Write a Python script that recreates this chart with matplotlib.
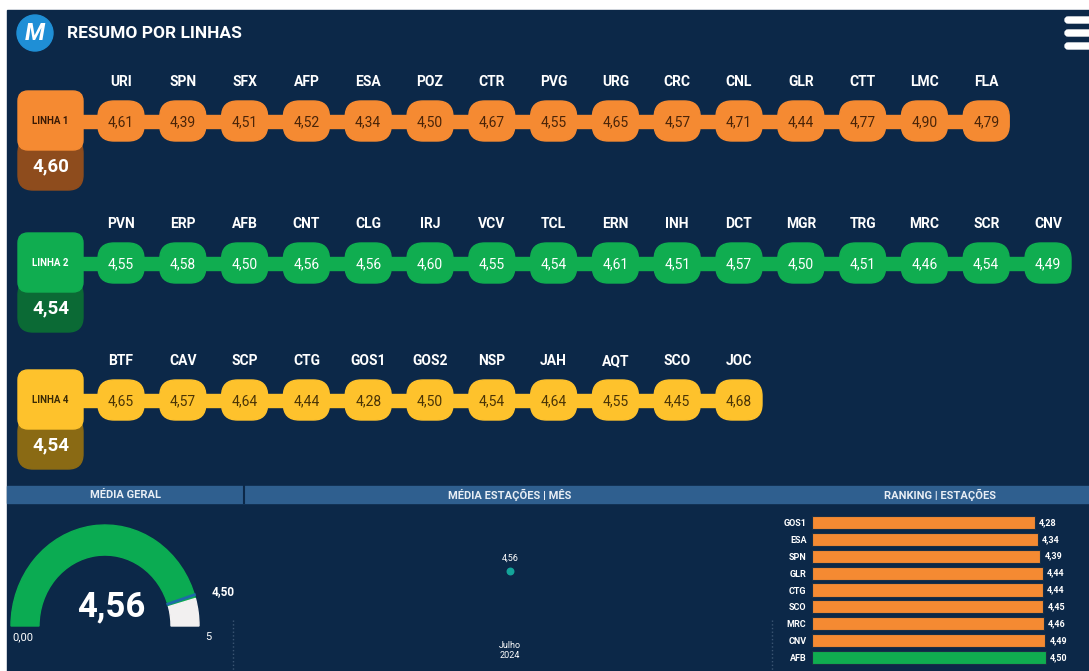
import matplotlib
matplotlib.use('Agg')
import matplotlib.pyplot as plt
from matplotlib.patches import FancyBboxPatch, Rectangle, Wedge, Circle
import numpy as np

# estações e notas de cada linha
linha1_estacoes = ['URI', 'SPN', 'SFX', 'AFP', 'ESA', 'POZ', 'CTR', 'PVG', 'URG',
                   'CRC', 'CNL', 'GLR', 'CTT', 'LMC', 'FLA']
linha1_notas = [4.61, 4.39, 4.51, 4.52, 4.34, 4.50, 4.67, 4.55, 4.65,
                4.57, 4.71, 4.44, 4.77, 4.90, 4.79]
linha2_estacoes = ['PVN', 'ERP', 'AFB', 'CNT', 'CLG', 'IRJ', 'VCV', 'TCL', 'ERN',
                   'INH', 'DCT', 'MGR', 'TRG', 'MRC', 'SCR', 'CNV']
linha2_notas = [4.55, 4.58, 4.50, 4.56, 4.56, 4.60, 4.55, 4.54, 4.61,
                4.51, 4.57, 4.50, 4.51, 4.46, 4.54, 4.49]
linha4_estacoes = ['BTF', 'CAV', 'SCP', 'CTG', 'GOS1', 'GOS2', 'NSP', 'JAH',
                   'AQT', 'SCO', 'JOC']
linha4_notas = [4.65, 4.57, 4.64, 4.44, 4.28, 4.50, 4.54, 4.64, 4.55, 4.45, 4.68]

linhas = ['LINHA 1', 'LINHA 2', 'LINHA 4']
medias_linhas = [4.60, 4.54, 4.54]

media_geral = 4.56
meta = 4.50
gauge_max = 5

meses = ['Julho\n2024']
media_mes = [4.56]

ranking_estacoes = ['GOS1', 'ESA', 'SPN', 'GLR', 'CTG', 'SCO', 'MRC', 'CNV', 'AFB']
ranking_notas = [4.28, 4.34, 4.39, 4.44, 4.44, 4.45, 4.46, 4.49, 4.50]

W, H = 1089, 671
NAVY = '#0c2848'
HEADER = '#2f5f8f'
ORANGE = '#f58a32'
GREEN = '#10ad50'
YELLOW = '#fec22c'

plt.rcParams['font.family'] = ['Roboto', 'DejaVu Sans']


def fmt(v):
    return f'{v:.2f}'.replace('.', ',')


def px_rect(x0, y0, x1, y1):
    return [x0 / W, 1 - y1 / H, (x1 - x0) / W, (y1 - y0) / H]


fig = plt.figure(figsize=(W / 100, H / 100), dpi=100, facecolor='white')
ax = fig.add_axes([0, 0, 1, 1])
ax.set_xlim(0, W)
ax.set_ylim(H, 0)
ax.axis('off')

ax.add_patch(Rectangle((7, 10), W - 7, H - 10, color=NAVY, zorder=0))

# cabeçalho
ax.add_patch(Circle((35, 33), 18, color='#1f8fd6', zorder=2))
ax.text(35, 34, 'M', color='white', fontsize=17, fontweight='bold', style='italic',
        ha='center', va='center', zorder=3)
ax.text(67, 33, 'RESUMO POR LINHAS', color='white', fontsize=12.5, fontweight='bold',
        va='center')
for yy in [20, 33, 46]:
    ax.add_patch(FancyBboxPatch((1065, yy - 3), 30, 6, boxstyle='round,pad=0,rounding_size=3',
                                color='white', zorder=2))

# linhas
rows = [
    (linha1_estacoes, linha1_notas, ORANGE, '#8e4c1d', '#4a2408', '#3a1a05'),
    (linha2_estacoes, linha2_notas, GREEN, '#0b6a35', 'white', 'white'),
    (linha4_estacoes, linha4_notas, YELLOW, '#8a6a14', '#4a3406', '#3a2a05'),
]
row_y = [121, 263, 400]
x_first, step = 121, 61.8

for (est, notas, cor, cor_esc, txt, txt_box), y, nome, media in zip(rows, row_y, linhas, medias_linhas):
    xs = x_first + step * np.arange(len(est))
    ax.add_patch(Rectangle((80, y - 6.5), xs[-1] - 80, 13, color=cor, zorder=1))
    for x, e, v in zip(xs, est, notas):
        ax.add_patch(FancyBboxPatch((x - 23, y - 20), 46, 40,
                                    boxstyle='round,pad=0,rounding_size=16',
                                    color=cor, zorder=2))
        ax.text(x, y + 1, fmt(v), color=txt, fontsize=10, ha='center', va='center', zorder=3)
        ax.text(x, y - 39, e, color='white', fontsize=10, fontweight='bold',
                ha='center', va='center')
    ax.add_patch(FancyBboxPatch((18, y + 17), 65, 52, boxstyle='round,pad=0,rounding_size=15',
                                color=cor_esc, zorder=2))
    ax.text(51, y + 45, fmt(media), color='white', fontsize=13.5, fontweight='bold',
            ha='center', va='center', zorder=3)
    ax.add_patch(FancyBboxPatch((18, y - 30), 65, 59, boxstyle='round,pad=0,rounding_size=10',
                                color=cor, zorder=3))
    ax.text(50, y, nome, color=txt_box, fontsize=7, fontweight='bold',
            ha='center', va='center', zorder=4)

# faixa de títulos inferior
ax.add_patch(Rectangle((7, 486), W - 7, 17, color=HEADER, zorder=1))
ax.plot([244, 244], [486, 503], color=NAVY, lw=1.5, zorder=2)
for x, t in [(126, 'MÉDIA GERAL'), (510, 'MÉDIA ESTAÇÕES | MÊS'), (940, 'RANKING | ESTAÇÕES')]:
    ax.text(x, 494.5, t, color='#e8eef5', fontsize=8, fontweight='bold',
            ha='center', va='center', zorder=3)
for x in [233, 772]:
    ax.plot([x, x], [620, H], color='#3b5572', lw=1, ls=':', zorder=1)

# velocímetro (um pouco mais alto que largo, como no painel)
ky = 101 / 94
gax = fig.add_axes(px_rect(0, 510, 240, 660))
gax.set_xlim(0, 240)
gax.set_ylim(0, 150 / ky)
gax.axis('off')
cx, cy, r, w = 105, 34 / ky, 94, 28
ang_val = 180 * (1 - media_geral / gauge_max)
ang_meta = 180 * (1 - meta / gauge_max)
gax.add_patch(Wedge((cx, cy), r, ang_val, 180, width=w, color='#0bab52'))
gax.add_patch(Wedge((cx, cy), r, 0, ang_val, width=w, color='#f2f0f0'))
t = np.deg2rad(ang_meta)
gax.plot([cx + (r - w) * np.cos(t), cx + r * np.cos(t)],
         [cy + (r - w) * np.sin(t), cy + r * np.sin(t)], color='#1e6aa8', lw=2)
gax.text(cx + r * np.cos(t) + 17, cy + r * np.sin(t) + 3, fmt(meta), color='white',
         fontsize=8.5, fontweight='bold', va='center')
gax.text(cx + 6, 53 / ky, fmt(media_geral), color='white', fontsize=25, fontweight='bold',
         ha='center', va='center')
gax.text(12, 23 / ky, '0,00', color='white', fontsize=8, va='center')
gax.text(208, 23 / ky, str(gauge_max), color='white', fontsize=8, ha='center', va='center')

# média por mês
max_ = fig.add_axes(px_rect(250, 520, 770, 635))
max_.set_facecolor('none')
max_.scatter(range(len(meses)), media_mes, s=22, color='#14a59a', zorder=3)
for i, v in enumerate(media_mes):
    max_.annotate(fmt(v), (i, v), xytext=(0, 7), textcoords='offset points',
                  ha='center', color='white', fontsize=6.5)
max_.set_xlim(-0.5, len(meses) - 0.5)
max_.set_ylim(4.0, 5.0)
max_.set_xticks(range(len(meses)))
max_.set_xticklabels(meses, color='white', fontsize=6.5)
max_.tick_params(length=0, pad=4)
max_.set_yticks([])
for s in max_.spines.values():
    s.set_visible(False)

# ranking
rax = fig.add_axes(px_rect(812, 514, 1062, 666))
rax.set_facecolor('none')
cores = [GREEN if v >= meta else ORANGE for v in ranking_notas]
rax.barh(range(len(ranking_estacoes)), ranking_notas, height=0.78, color=cores,
         edgecolor='#1a2f45', linewidth=0.8)
for i, v in enumerate(ranking_notas):
    rax.text(v + 0.08, i, fmt(v), color='white', fontsize=6.5, fontweight='bold', va='center')
rax.set_xlim(0, 250 / 52)
rax.set_ylim(len(ranking_estacoes) - 0.5, -0.5)
rax.set_yticks(range(len(ranking_estacoes)))
rax.set_yticklabels(ranking_estacoes, color='white', fontsize=6.5, fontweight='bold')
rax.tick_params(length=0, pad=4)
rax.set_xticks([])
for s in rax.spines.values():
    s.set_visible(False)

fig.savefig('out.png', dpi=100, facecolor=fig.get_facecolor())
